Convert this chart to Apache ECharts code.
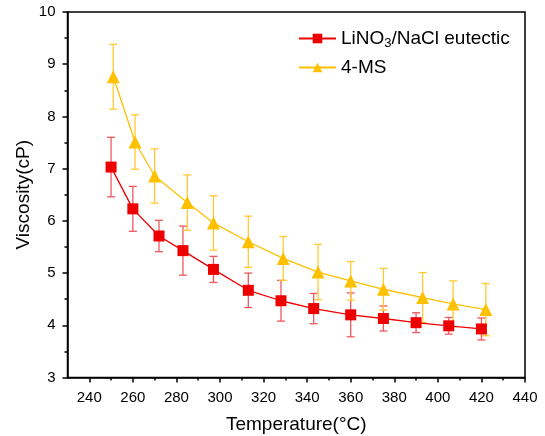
<!DOCTYPE html>
<html><head><meta charset="utf-8">
<script src="https://cdn.jsdelivr.net/npm/echarts@6/dist/echarts.min.js"></script>
<style>html,body{margin:0;padding:0;background:#fff}#c{width:545px;height:436px}</style>
</head><body><div id="c"></div>
<script>
const seriesNames = ['LiNO3/NaCl eutectic', '4-MS'];
const redTemps = [250, 260, 272, 283, 297, 313, 328, 343, 360, 375, 390, 405, 420];
const redVisc  = [7.03, 6.23, 5.71, 5.43, 5.07, 4.67, 4.47, 4.32, 4.20, 4.13, 4.05, 3.99, 3.93];
const redErr   = [0.57, 0.43, 0.30, 0.47, 0.25, 0.33, 0.39, 0.29, 0.42, 0.24, 0.19, 0.16, 0.21];
const yelTemps = [251, 261, 270, 285, 297, 313, 329, 345, 360, 375, 393, 407, 422];
const yelVisc  = [8.76, 7.51, 6.86, 6.35, 5.96, 5.60, 5.28, 5.02, 4.85, 4.69, 4.53, 4.41, 4.30];
const yelErr   = [0.62, 0.52, 0.52, 0.53, 0.52, 0.49, 0.42, 0.53, 0.37, 0.40, 0.48, 0.44, 0.50];
const xMajorTicks = [240, 260, 280, 300, 320, 340, 360, 380, 400, 420, 440];
const xMinorTicks = [250, 270, 290, 310, 330, 350, 370, 390, 410, 430];

const RED = '#ee0000', RED_BAR = '#f0585e';
const YEL = '#ffc000', YEL_BAR = '#ffca33';
const FONT = 'Liberation Sans, Arial, sans-serif';

function zip(a, b, c) { return a.map((v, i) => [v, b[i], c ? c[i] : undefined]); }
function errRender(color) {
  return function (params, api) {
    const x = api.value(0), y = api.value(1), e = api.value(2);
    const t = api.coord([x, y + e]), b = api.coord([x, y - e]);
    const hw = 4;
    const st = { stroke: color, lineWidth: 1.3 };
    return { type: 'group', children: [
      { type: 'line', shape: { x1: t[0], y1: t[1], x2: b[0], y2: b[1] }, style: st },
      { type: 'line', shape: { x1: t[0] - hw, y1: t[1], x2: t[0] + hw, y2: t[1] }, style: st },
      { type: 'line', shape: { x1: b[0] - hw, y1: b[1], x2: b[0] + hw, y2: b[1] }, style: st }
    ]};
  };
}

const chart = echarts.init(document.getElementById('c'), null, { renderer: 'canvas' });
chart.setOption({
  animation: false,
  textStyle: { fontFamily: FONT },
  grid: { left: 67.5, right: 20, top: 12, bottom: 58.5, containLabel: false, outerBoundsMode: 'none',
    show: true, borderColor: '#000', borderWidth: 1.5, backgroundColor: 'transparent' },
  legend: {
    data: seriesNames,
    orient: 'vertical', left: 293, top: 24, itemGap: 8, itemWidth: 37, itemHeight: 12,
    textStyle: { fontFamily: FONT, fontSize: 19, color: '#000',
      rich: { s: { fontSize: 13, fontFamily: FONT, color: '#000', padding: [10, 0, 0, 0] } } },
    formatter: n => n === seriesNames[0] ? 'LiNO{s|3}/NaCl eutectic' : n
  },
  xAxis: [{
    type: 'value', min: 230, max: 440, position: 'bottom',
    name: 'Temperature(°C)', nameLocation: 'middle', nameGap: 38,
    nameTextStyle: { fontFamily: FONT, fontSize: 19, color: '#000' },
    axisLine: { show: true, onZero: false, lineStyle: { color: '#000', width: 1.5 } },
    axisTick: { show: true, length: 5, customValues: xMajorTicks, lineStyle: { color: '#000', width: 1.5 } },
    axisLabel: { customValues: xMajorTicks, fontFamily: FONT, fontSize: 15, color: '#000', margin: 13 },
    splitLine: { show: false }
  }, {
    type: 'value', min: 230, max: 440, position: 'bottom',
    axisLine: { show: false },
    axisTick: { show: true, length: 3, customValues: xMinorTicks, lineStyle: { color: '#000', width: 1.5 } },
    axisLabel: { show: false }, splitLine: { show: false }
  }],
  yAxis: {
    type: 'value', min: 3, max: 10, interval: 1,
    name: 'Viscosity(cP)', nameLocation: 'middle', nameGap: 34, nameMoveOverlap: false,
    nameTextStyle: { fontFamily: FONT, fontSize: 19, color: '#000' },
    axisLine: { show: true, onZero: false, lineStyle: { color: '#000', width: 1.5 } },
    axisTick: { show: true, length: 5, lineStyle: { color: '#000', width: 1.5 } },
    minorTick: { show: true, splitNumber: 2, length: 3, lineStyle: { color: '#000', width: 1.5 } },
    axisLabel: { fontFamily: FONT, fontSize: 15, color: '#000', margin: 12 },
    splitLine: { show: false }
  },
  series: [
    { type: 'custom', name: 'errRed', renderItem: errRender(RED_BAR), data: zip(redTemps, redVisc, redErr), z: 1, silent: true, clip: false },
    { type: 'custom', name: 'errYel', renderItem: errRender(YEL_BAR), data: zip(yelTemps, yelVisc, yelErr), z: 1, silent: true, clip: false },
    { type: 'line', name: seriesNames[0], data: zip(redTemps, redVisc).map(d => [d[0], d[1]]),
      symbol: 'rect', symbolSize: 11, itemStyle: { color: RED }, lineStyle: { color: RED, width: 1.3 }, z: 3 },
    { type: 'line', name: seriesNames[1], data: zip(yelTemps, yelVisc).map(d => [d[0], d[1]]),
      symbol: 'triangle', symbolSize: 13, itemStyle: { color: YEL }, lineStyle: { color: YEL, width: 1.3 }, z: 4 }
  ]
});
</script></body></html>
